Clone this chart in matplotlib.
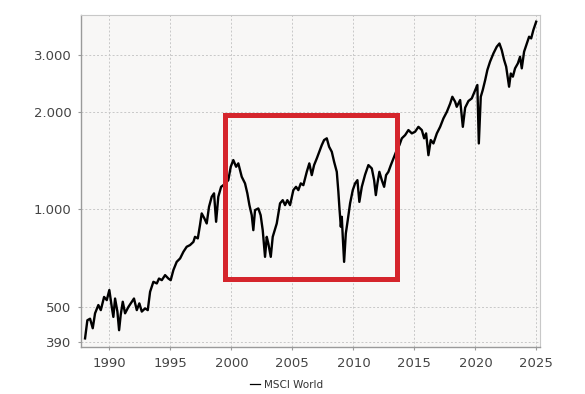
import matplotlib
matplotlib.use("Agg")
import matplotlib.pyplot as plt
from matplotlib.patches import Rectangle
from matplotlib.ticker import FixedLocator, FixedFormatter, NullLocator

# MSCI World index (decimal year, index points)
years = [
    1988.01, 1988.2, 1988.42, 1988.64, 1988.83, 1989.1, 1989.3, 1989.57, 1989.79,
    1990.0, 1990.2, 1990.33, 1990.47, 1990.66, 1990.8, 1990.93, 1991.1, 1991.29,
    1991.56, 1991.84, 1992.02, 1992.25, 1992.46, 1992.66, 1992.93, 1993.15,
    1993.34, 1993.61, 1993.89, 1994.07, 1994.3, 1994.57, 1994.84, 1995.03,
    1995.25, 1995.52, 1995.8, 1996.07, 1996.34, 1996.61, 1996.89, 1997.02,
    1997.25, 1997.43, 1997.57, 1997.79, 1997.98, 1998.17, 1998.39, 1998.58,
    1998.75, 1998.93, 1999.16, 1999.5, 1999.75, 1999.95, 2000.16, 2000.39,
    2000.57, 2000.85, 2001.12, 2001.31, 2001.48, 2001.67, 2001.8, 2001.94,
    2002.21, 2002.4, 2002.57, 2002.76, 2002.9, 2003.03, 2003.23, 2003.39,
    2003.72, 2003.99, 2004.21, 2004.4, 2004.59, 2004.81, 2005.08, 2005.3,
    2005.49, 2005.69, 2005.9, 2006.18, 2006.39, 2006.59, 2006.78, 2007.0,
    2007.21, 2007.41, 2007.6, 2007.82, 2008.01, 2008.23, 2008.42, 2008.64,
    2008.77, 2008.85, 2008.97, 2009.05, 2009.13, 2009.24, 2009.38, 2009.54,
    2009.73, 2009.95, 2010.14, 2010.33, 2010.49, 2010.69, 2010.96, 2011.23,
    2011.51, 2011.7, 2011.84, 2011.97, 2012.13, 2012.33, 2012.52, 2012.68,
    2012.87, 2013.07, 2013.28, 2013.5, 2013.77, 2013.97, 2014.24, 2014.51,
    2014.79, 2015.06, 2015.33, 2015.61, 2015.8, 2015.96, 2016.15, 2016.34,
    2016.56, 2016.84, 2017.11, 2017.38, 2017.66, 2017.93, 2018.11, 2018.34,
    2018.47, 2018.75, 2018.97, 2019.16, 2019.43, 2019.7, 2019.98, 2020.16,
    2020.28, 2020.44, 2020.6, 2020.8, 2020.98, 2021.2, 2021.48, 2021.75,
    2021.97, 2022.16, 2022.35, 2022.52, 2022.62, 2022.76, 2022.9, 2023.07,
    2023.25, 2023.48, 2023.66, 2023.8, 2023.99, 2024.21, 2024.4, 2024.57,
    2024.75, 2024.98,
]
msci = [
    400, 455, 460, 430, 478, 507, 489, 537, 525,
    564, 500, 466, 531, 484, 424, 472, 519, 478,
    500, 519, 531, 489, 513, 484, 495, 489,
    557, 598, 591, 612, 605, 627, 612, 605,
    650, 689, 706, 740, 767, 776, 794, 823,
    814, 895, 972, 938, 905, 1019, 1094, 1121,
    916, 1094, 1174, 1200, 1231, 1354, 1420, 1354,
    1387, 1261, 1203, 1121, 1031, 960, 863, 995,
    1007, 960, 863, 714, 823, 785, 714, 823,
    905, 1044, 1068, 1031, 1068, 1031, 1147, 1174,
    1147, 1203, 1188, 1306, 1387, 1276, 1370, 1436,
    1506, 1579, 1637, 1657, 1561, 1506, 1403, 1306,
    1133, 1019, 884, 949, 823, 689, 843, 927,
    1044, 1147, 1203, 1231, 1055, 1174, 1280, 1370,
    1338, 1231, 1107, 1203, 1306, 1231, 1174, 1276,
    1306, 1370, 1436, 1506, 1579, 1657, 1695, 1757,
    1716, 1737, 1798, 1757, 1657, 1716, 1470, 1637,
    1598, 1716, 1798, 1909, 2000, 2120, 2226, 2148,
    2073, 2175, 1798, 2060, 2160, 2200, 2334, 2420,
    1598, 2226, 2334, 2506, 2692, 2856, 3030, 3176,
    3250, 3100, 2893, 2757, 2600, 2391, 2626, 2568,
    2724, 2822, 2958, 2724, 3066, 3250, 3410, 3370,
    3576, 3794,
]

xticks = [1990, 1995, 2000, 2005, 2010, 2015, 2020, 2025]
yticks = [390, 500, 1000, 2000, 3000]
ylabels = ["390", "500", "1.000", "2.000", "3.000"]

# highlighted period (box)
box_x = (1999.52, 2013.58)
box_y = (608, 1954)

fig = plt.figure(figsize=(5.85, 3.94), dpi=100)
ax = fig.add_axes([0.1385, 0.119, 0.7845, 0.843])
ax.set_facecolor("#f8f7f6")

ax.plot(years, msci, color="black", lw=1.7, label="MSCI World", zorder=3)

ax.add_patch(Rectangle((box_x[0], box_y[0]), box_x[1] - box_x[0], box_y[1] - box_y[0],
                       fill=False, edgecolor="#d5252c", lw=3.6, zorder=4))

ax.set_yscale("log")
ax.set_xlim(1987.68, 2025.29)
ax.set_ylim(376, 3980)
ax.yaxis.set_major_locator(FixedLocator(yticks))
ax.yaxis.set_major_formatter(FixedFormatter(ylabels))
ax.yaxis.set_minor_locator(NullLocator())
ax.set_xticks(xticks)

ax.grid(True, color="#c8c8c8", lw=0.7, ls=(0, (2, 2)))
ax.set_axisbelow(True)

for side in ["top", "right"]:
    ax.spines[side].set_color("#c8c8c8")
for side in ["left", "bottom"]:
    ax.spines[side].set_color("#9a9a9a")
    ax.spines[side].set_linewidth(1.0)
ax.tick_params(length=2, color="#9a9a9a", labelsize=9.5, labelcolor="#444444", pad=5)

fig.legend(loc="center", bbox_to_anchor=(0.49, 0.023), frameon=False,
           fontsize=7.5, handlelength=1.0, handletextpad=0.4, labelcolor="#333333")
leg = fig.legends[0]
leg.get_lines()[0].set_linewidth(0.9)

fig.savefig("out.png", dpi=100, facecolor="white")
